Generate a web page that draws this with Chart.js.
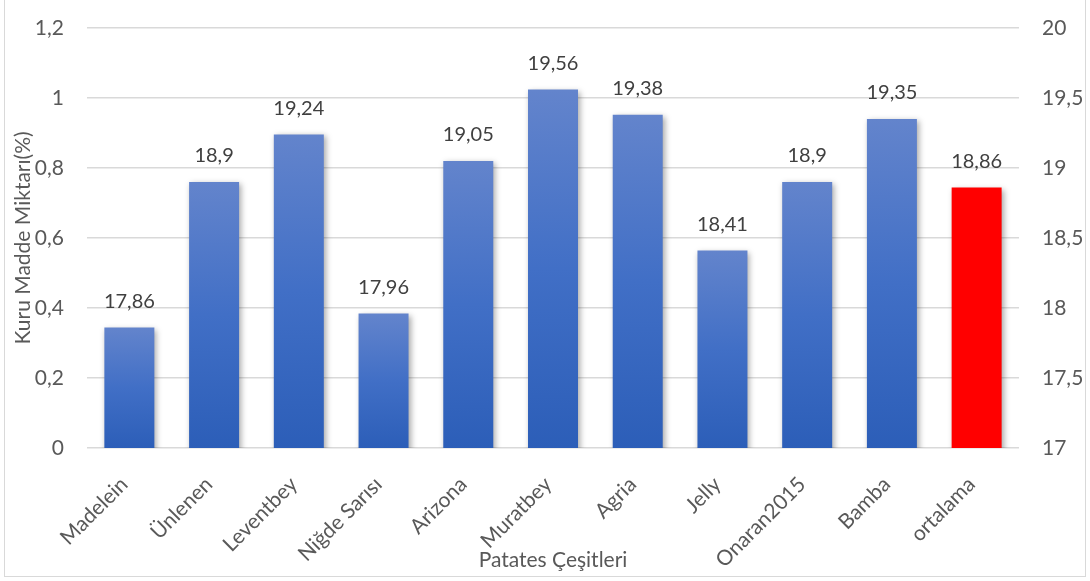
<!DOCTYPE html>
<html>
<head>
<meta charset="utf-8">
<script src="https://cdn.jsdelivr.net/npm/chart.js@4/dist/chart.umd.min.js"></script>
<style>
  html, body { margin: 0; padding: 0; background: #fff; }
  #wrap { position: relative; width: 1090px; height: 581px; }
  #frame { position: absolute; left: 4px; top: -2px; width: 1082px; height: 579px; border: 1px solid #d9d9d9; box-sizing: border-box; pointer-events: none; }
  canvas { position: absolute; left: 0; top: 0; }
</style>
</head>
<body>
<div id="wrap">
  <canvas id="barChart" width="1090" height="581"></canvas>
  <div id="frame"></div>
</div>
<script>
// Patates çeşitleri ve kuru madde değerleri
const categories = ['Madelein', 'Ünlenen', 'Leventbey', 'Niğde Sarısı', 'Arizona', 'Muratbey', 'Agria', 'Jelly', 'Onaran2015', 'Bamba', 'ortalama'];
const kuruMadde = [17.86, 18.9, 19.24, 17.96, 19.05, 19.56, 19.38, 18.41, 18.9, 19.35, 18.86];
const leftTicks = [0, 0.2, 0.4, 0.6, 0.8, 1, 1.2];
const rightTicks = [17, 17.5, 18, 18.5, 19, 19.5, 20];

const FONT = 'Lato, "Open Sans", sans-serif';
const virgul = v => String(v).replace('.', ',');

// Excel tarzı dikey degrade (her çubuk kendi içinde)
function barColor(ctx) {
  if (ctx.dataIndex === categories.length - 1) return '#ff0000';
  const chart = ctx.chart;
  const s = chart.scales.y1;
  if (!chart.chartArea || !s) return '#4472c4';
  const top = s.getPixelForValue(kuruMadde[ctx.dataIndex]);
  const bottom = s.getPixelForValue(s.min);
  const g = chart.ctx.createLinearGradient(0, top, 0, bottom);
  g.addColorStop(0, '#6384cc');
  g.addColorStop(0.5, '#416fc6');
  g.addColorStop(1, '#2c5eb8');
  return g;
}

// Çubuk gölgesi + değer etiketleri
const barExtras = {
  id: 'barExtras',
  beforeDatasetsDraw(chart) {
    const c = chart.ctx;
    c.save();
    c.shadowColor = 'rgba(0,0,0,0.35)';
    c.shadowBlur = 6;
    c.shadowOffsetX = 2;
    c.shadowOffsetY = 2;
  },
  afterDatasetsDraw(chart) {
    const c = chart.ctx;
    c.restore();
    c.save();
    c.font = '20px ' + FONT;
    c.fillStyle = '#404040';
    c.textAlign = 'center';
    c.textBaseline = 'bottom';
    chart.getDatasetMeta(0).data.forEach((bar, i) => {
      c.fillText(virgul(kuruMadde[i]), bar.x, bar.y - 16);
    });
    c.restore();
  }
};

// eksen boşluklarını sabitle
function noPad(scale) {
  scale.paddingTop = 0;
  scale.paddingBottom = 0;
}

new Chart(document.getElementById('barChart'), {
  type: 'bar',
  data: {
    labels: categories,
    datasets: [{
      label: 'Kuru Madde Miktarı(%)',
      data: kuruMadde,
      yAxisID: 'y1',
      backgroundColor: barColor,
      barPercentage: 0.59,
      categoryPercentage: 1
    }]
  },
  options: {
    responsive: false,
    animation: false,
    layout: { padding: { top: 28, right: 0, bottom: 0, left: 0 } },
    plugins: {
      legend: { display: false },
      tooltip: { enabled: false }
    },
    scales: {
      x: {
        grid: { display: false },
        border: { display: false },
        ticks: {
          color: '#595959',
          font: { family: FONT, size: 21 },
          minRotation: 45,
          maxRotation: 45,
          padding: 16,
          labelOffset: -5
        },
        title: {
          display: true,
          text: 'Patates Çeşitleri',
          color: '#595959',
          font: { family: FONT, size: 21 },
          padding: { top: 0, bottom: 8 }
        },
        afterFit(scale) { scale.height = 133; noPad(scale); }
      },
      y: {
        position: 'left',
        min: 0,
        max: 1.2,
        afterBuildTicks(scale) { scale.ticks = leftTicks.map(v => ({ value: v })); },
        grid: { color: '#d9d9d9', lineWidth: 1.5, drawTicks: false },
        border: { display: false },
        ticks: {
          color: '#595959',
          font: { family: FONT, size: 21 },
          padding: 23,
          callback: v => virgul(v)
        },
        title: {
          display: true,
          text: 'Kuru Madde Miktarı(%)',
          color: '#595959',
          font: { family: FONT, size: 21 },
          padding: { top: 11, bottom: 0 }
        },
        afterFit(scale) { scale.width = 87; noPad(scale); }
      },
      y1: {
        position: 'right',
        min: 17,
        max: 20,
        afterBuildTicks(scale) { scale.ticks = rightTicks.map(v => ({ value: v })); },
        grid: { display: false, drawTicks: false },
        border: { display: false },
        ticks: {
          color: '#595959',
          font: { family: FONT, size: 21 },
          padding: 23,
          callback: v => virgul(v)
        },
        afterFit(scale) { scale.width = 71; noPad(scale); }
      }
    }
  },
  plugins: [barExtras]
});
</script>
</body>
</html>
